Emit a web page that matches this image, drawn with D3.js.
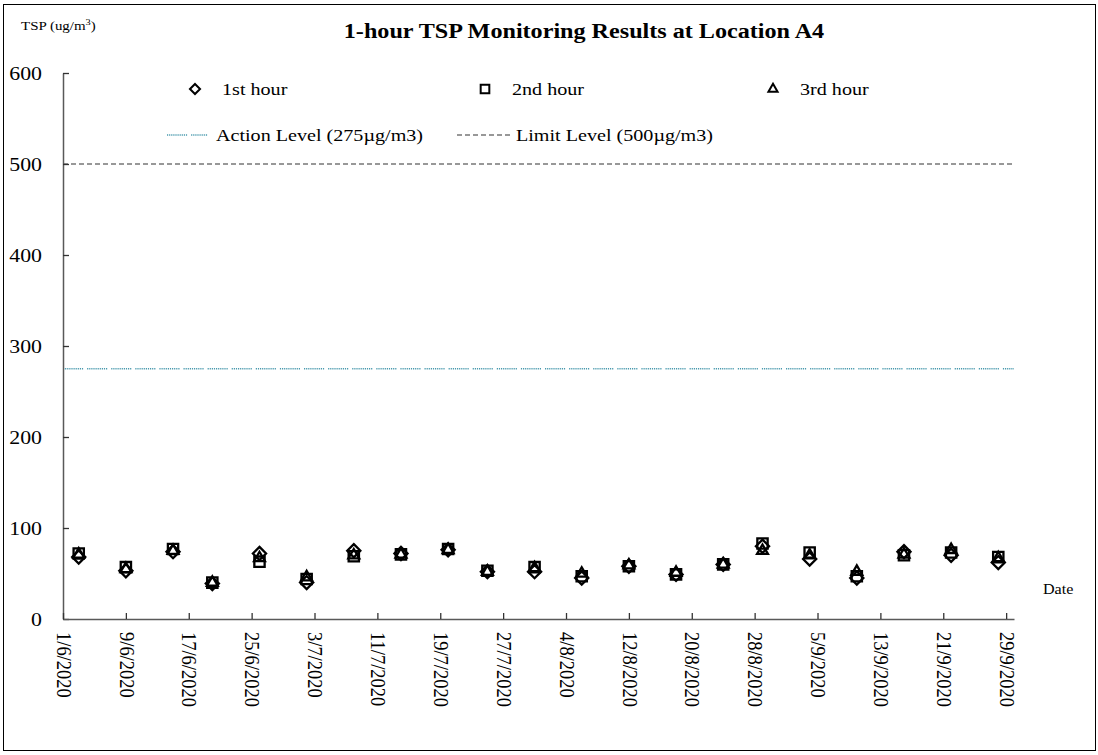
<!DOCTYPE html>
<html>
<head>
<meta charset="utf-8">
<script src="https://cdn.jsdelivr.net/npm/d3@7"></script>
<style>
  body { margin: 0; background: white; }
  svg { display: block; }
  svg text { font-family: "Liberation Serif", "Times New Roman", serif; }
</style>
</head>
<body>
<script>
// sampling dates (d/m/yyyy)
var dates = ["3/6/2020", "9/6/2020", "15/6/2020", "20/6/2020", "26/6/2020", "2/7/2020", "8/7/2020",
  "14/7/2020", "20/7/2020", "25/7/2020", "31/7/2020", "6/8/2020", "12/8/2020", "18/8/2020",
  "24/8/2020", "29/8/2020", "4/9/2020", "10/9/2020", "16/9/2020", "22/9/2020", "28/9/2020"];

// TSP (ug/m3)
var hour1 = [68, 53, 74, 39, 72, 40, 75, 72, 76, 52, 52, 45, 58, 49, 60, 80, 66, 45, 74, 70, 62];
var hour2 = [72, 57, 77, 40, 63, 44, 69, 71, 77, 53, 57, 47, 58, 49, 60, 83, 73, 47, 70, 73, 68];
var hour3 = [71, 55, 75, 40, 67, 46, 70, 71, 76, 52, 56, 50, 59, 51, 60, 75, 70, 52, 71, 76, 67];

var actionLevel = 275;
var limitLevel = 500;

var xTickLabels = ["1/6/2020", "9/6/2020", "17/6/2020", "25/6/2020", "3/7/2020", "11/7/2020",
  "19/7/2020", "27/7/2020", "4/8/2020", "12/8/2020", "20/8/2020", "28/8/2020", "5/9/2020",
  "13/9/2020", "21/9/2020", "29/9/2020"];
var yTicks = [0, 100, 200, 300, 400, 500, 600];

var parse = d3.timeParse("%d/%m/%Y");
var width = 1098, height = 755;
var stretch = 1.15; // text in the original is a bit wider than tall

var svg = d3.select("body").append("svg")
  .attr("width", width)
  .attr("height", height);

// outer frame
svg.append("rect")
  .attr("x", 3.5).attr("y", 4.5)
  .attr("width", 1092).attr("height", 746)
  .style("fill", "none")
  .style("stroke", "black")
  .style("stroke-width", 1);

var x = d3.scaleTime()
  .domain([parse("1/6/2020"), parse("30/9/2020")])
  .range([63, 1014]);

var y = d3.scaleLinear()
  .domain([0, 600])
  .range([619, 73]);

// helper: text placed at (px,py) and stretched horizontally
function addText(px, py, size, str, anchor) {
  return svg.append("text")
    .attr("transform", `translate(${px},${py}) scale(${stretch},1)`)
    .attr("text-anchor", anchor || "start")
    .style("font-size", size + "px")
    .text(str);
}

// reference lines
var actionDash = [];
for (var i = 0; i < 9; i++) { actionDash.push(1.2, 0.9); }
actionDash.push(1.2, 4);

svg.append("line")
  .attr("x1", x.range()[0]).attr("x2", x.range()[1])
  .attr("y1", y(actionLevel)).attr("y2", y(actionLevel))
  .style("stroke", "#4a9aae")
  .style("stroke-width", 1.3)
  .style("stroke-dasharray", actionDash.join(","));

svg.append("line")
  .attr("x1", x.range()[0]).attr("x2", x.range()[1])
  .attr("y1", y(limitLevel)).attr("y2", y(limitLevel))
  .style("stroke", "#333")
  .style("stroke-width", 1.2)
  .style("stroke-dasharray", "5,3");

// y axis
var yAxis = d3.axisLeft(y)
  .tickValues(yTicks)
  .tickSizeInner(-6)
  .tickSizeOuter(0)
  .tickPadding(0);

var gy = svg.append("g")
  .attr("transform", `translate(${x.range()[0]},0)`)
  .call(yAxis)
  .attr("font-family", null)
  .attr("font-size", null);
gy.select(".domain").attr("stroke", "#595959").attr("stroke-width", 1.5);
gy.selectAll(".tick line").attr("stroke", "#333").attr("stroke-width", 1.3);
gy.selectAll(".tick text")
  .style("font-size", "19px")
  .attr("fill", "black")
  .attr("x", null)
  .attr("dy", "0.34em")
  .attr("transform", `translate(-21,0) scale(${stretch},1)`);

// x axis
var xAxis = d3.axisBottom(x)
  .tickValues(xTickLabels.map(parse))
  .tickFormat(function(d) { return d3.timeFormat("%-d/%-m/%Y")(d); })
  .tickSizeInner(-6)
  .tickSizeOuter(0);

var gx = svg.append("g")
  .attr("transform", `translate(0,${y(0)})`)
  .call(xAxis)
  .attr("font-family", null)
  .attr("font-size", null);
gx.select(".domain").attr("stroke", "#595959").attr("stroke-width", 1.5);
gx.selectAll(".tick line").attr("stroke", "#333").attr("stroke-width", 1.3);
gx.selectAll(".tick text")
  .style("font-size", "18.5px")
  .attr("fill", "black")
  .attr("text-anchor", "start")
  .attr("dy", "0.32em")
  .attr("y", 0)
  .attr("transform", `translate(0,13) scale(${stretch},1) rotate(90)`);

// markers
var diamond = d3.symbol().type(d3.symbolDiamond2).size(110);
var square = d3.symbol().type(d3.symbolSquare2).size(135);
var triangle = d3.symbol().type(d3.symbolTriangle2).size(85);

function drawSeries(values, sym, cls) {
  svg.selectAll("." + cls)
    .data(values)
    .enter()
    .append("path")
    .attr("class", cls)
    .attr("d", sym)
    .attr("transform", function(d, i) { return `translate(${x(parse(dates[i]))},${y(d)})`; })
    .style("fill", "none")
    .style("stroke", "black")
    .style("stroke-width", 2.3);
}

drawSeries(hour1, diamond, "h1");
drawSeries(hour2, square, "h2");
drawSeries(hour3, triangle, "h3");

// titles
addText(584, 38, 21, "1-hour TSP Monitoring Results at Location A4", "middle")
  .style("font-weight", "bold");

var yl = addText(21, 30, 13, "");
yl.append("tspan").text("TSP  (ug/m");
yl.append("tspan").style("font-size", "9px").attr("dy", -5).text("3");
yl.append("tspan").attr("dy", 5).text(")");

addText(1043, 594, 14, "Date");

// legend
var legendMarks = [
  { label: "1st hour", sym: d3.symbol().type(d3.symbolDiamond2).size(65), x: 195 },
  { label: "2nd hour", sym: d3.symbol().type(d3.symbolSquare2).size(95), x: 485 },
  { label: "3rd hour", sym: d3.symbol().type(d3.symbolTriangle2).size(60), x: 773 }
];
legendMarks.forEach(function(m) {
  svg.append("path")
    .attr("d", m.sym)
    .attr("transform", `translate(${m.x},89)`)
    .style("fill", "none")
    .style("stroke", "black")
    .style("stroke-width", 2);
  addText(m.x + 27, 95, 17.5, m.label);
});

svg.append("line")
  .attr("x1", 167).attr("x2", 208).attr("y1", 135).attr("y2", 135)
  .style("stroke", "#4a9aae").style("stroke-width", 1.3)
  .style("stroke-dasharray", actionDash.join(","));
addText(216, 141, 17.5, "Action Level (275\u00b5g/m3)");

svg.append("line")
  .attr("x1", 457).attr("x2", 512).attr("y1", 135).attr("y2", 135)
  .style("stroke", "#333").style("stroke-width", 1.2)
  .style("stroke-dasharray", "5,3");
addText(516, 141, 17.5, "Limit Level (500\u00b5g/m3)");
</script>
</body>
</html>
